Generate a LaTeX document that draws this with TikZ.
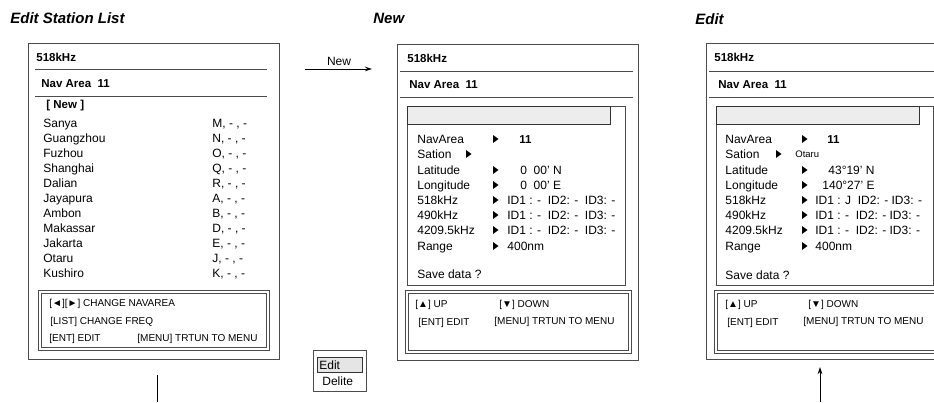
\documentclass[tikz,border=0pt]{standalone}
\usepackage{fontspec}
\setmainfont{Liberation Sans}
\usetikzlibrary{arrows.meta,positioning}

% small black pointer in front of a value
\newcommand{\ptr}[2]{\fill[black] (#1,#2-4) -- (#1+5.5,#2) -- (#1,#2+4) -- cycle;}

\begin{document}
\begin{tikzpicture}[
	x = 1pt, y = -1pt, % pixel grid, y runs downwards
	> = {Stealth[length=7pt, width=4.5pt]}, % arrow head style
	line width = 0.8pt,
	screen/.style={rectangle, draw=black!70, line width=0.9pt, anchor=north west, inner sep=0pt, outer sep=0pt},
	rule/.style={draw=black!70, line width=0.9pt},
	box/.style={draw=black!70, line width=0.8pt},
	bar/.style={draw=black!80, line width=0.8pt, fill=black!7},
	T/.style={anchor=west, inner sep=0pt, text height=8pt, text depth=0pt, font=\fontsize{12}{14}\selectfont},
	H/.style={T, font=\fontsize{11.5}{13}\selectfont\bfseries},
	S/.style={T, text height=7pt, font=\fontsize{9.5}{11}\selectfont},
	K/.style={anchor=west, inner sep=0pt, text height=7pt, text depth=0pt, font=\fontsize{10}{12}\selectfont},
	title/.style={anchor=west, inner sep=0pt, font=\fontsize{15}{17}\selectfont\bfseries\itshape},
	]
	\clip (0,0) rectangle (934,402);

	% Titles
	\node[title] (tList) at (10,18) {Edit Station List};
	\node[title] (tNew)  at (373,18) {New};
	\node[title] (tEdit) at (695,19) {Edit};

	% Edit station list screen
	\node[screen, minimum width=251, minimum height=316] (list) at (28,43) {};
	\draw[rule] (35,69) -- (267,69);
	\draw[rule] (35,96) -- (267,96);
	\node[H] (lFreq) at (36,57)  {518kHz};
	\node[H] (lArea) at (41,83)  {Nav Area~ 11};
	\node[H] (lNew)  at (46,104) {[ New ]};

	\node[T] (s1)  at (43,123) {Sanya};      \node[T] (c1)  at (212,123) {M, - , -};
	\node[T] (s2)  at (43,138) {Guangzhou};  \node[T] (c2)  at (212,138) {N, - , -};
	\node[T] (s3)  at (43,153) {Fuzhou};     \node[T] (c3)  at (212,153) {O, - , -};
	\node[T] (s4)  at (43,168) {Shanghai};   \node[T] (c4)  at (212,168) {Q, - , -};
	\node[T] (s5)  at (43,183) {Dalian};     \node[T] (c5)  at (212,183) {R, - , -};
	\node[T] (s6)  at (43,198) {Jayapura};   \node[T] (c6)  at (212,198) {A, - , -};
	\node[T] (s7)  at (43,213) {Ambon};      \node[T] (c7)  at (212,213) {B, - , -};
	\node[T] (s8)  at (43,228) {Makassar};   \node[T] (c8)  at (212,228) {D, - , -};
	\node[T] (s9)  at (43,243) {Jakarta};    \node[T] (c9)  at (212,243) {E, - , -};
	\node[T] (s10) at (43,258) {Otaru};      \node[T] (c10) at (212,258) {J, - , -};
	\node[T] (s11) at (43,273) {Kushiro};    \node[T] (c11) at (212,273) {K, - , -};

	\draw[box] (38,290) rectangle (269,350);
	\draw[box] (41,293) rectangle (266,347);
	\node[K] (lk1) at (49,303)  {[◄][►] CHANGE NAVAREA};
	\node[K] (lk2) at (50,321)  {[LIST] CHANGE FREQ};
	\node[K] (lk3) at (49,338)  {[ENT] EDIT};
	\node[K] (lk4) at (137,338) {[MENU] TRTUN TO MENU};

	% New station screen
	\node[screen, minimum width=241, minimum height=316] (newScr) at (397,44) {};
	\draw[rule] (400,71) -- (633,71);
	\draw[rule] (400,97) -- (633,97);
	\node[H] (nFreq) at (407,58) {518kHz};
	\node[H] (nArea) at (409,84) {Nav Area~ 11};
	\draw[box] (407,106) rectangle (625,285);
	\draw[bar] (407,106) rectangle (610,124);

	\node[T] (nr1) at (417,139) {NavArea};
	\node[T] (nr2) at (417,154) {Sation};
	\node[T] (nr3) at (417,170) {Latitude};
	\node[T] (nr4) at (417,185) {Longitude};
	\node[T] (nr5) at (417,200) {518kHz};
	\node[T] (nr6) at (417,215) {490kHz};
	\node[T] (nr7) at (417,230) {4209.5kHz};
	\node[T] (nr8) at (417,246) {Range};
	\node[T] (nr9) at (417,274) {Save data ?};
	\ptr{493}{139} \ptr{466}{154} \ptr{493}{170} \ptr{493}{185}
	\ptr{493}{200} \ptr{493}{215} \ptr{493}{230} \ptr{493}{246}
	\node[H] (nv1) at (519,139) {11};
	\node[T] (nv3) at (520,170) {0~ 00’ N};
	\node[T] (nv4) at (520,185) {0~ 00’ E};
	\node[T] (nv5) at (507,200) {ID1 : -~~ID2: -~~ID3: -};
	\node[T] (nv6) at (507,215) {ID1 : -~~ID2: -~~ID3: -};
	\node[T] (nv7) at (507,230) {ID1 : -~~ID2: -~~ID3: -};
	\node[T] (nv8) at (507,246) {400nm};

	\draw[box] (405,290) rectangle (631,353);
	\draw[box] (408,293) rectangle (628,350);
	\node[K] (nk1) at (415,304) {[▲] UP};
	\node[K] (nk2) at (499,304) {[▼] DOWN};
	\node[K] (nk3) at (418,322) {[ENT] EDIT};
	\node[K] (nk4) at (494,321) {[MENU] TRTUN TO MENU};

	% Edit / Delite choice
	\draw[box] (313,350) rectangle (366,391);
	\draw[bar, fill=black!10] (317,357) rectangle (362,372);
	\node[T] (mEdit) at (319,365) {Edit};
	\node[T] (mDel)  at (322,381) {Delite};

	% Edit station screen
	\begin{scope}[xshift=309pt]
	\node[screen, minimum width=241, minimum height=316] (editScr) at (397,43) {};
	\draw[rule] (400,71) -- (633,71);
	\draw[rule] (400,97) -- (633,97);
	\node[H] (eFreq) at (405,57) {518kHz};
	\node[H] (eArea) at (409,84) {Nav Area~ 11};
	\draw[box] (407,106) rectangle (624,285);
	\draw[bar] (407,106) rectangle (610,124);

	\node[T] (er1) at (416,139) {NavArea};
	\node[T] (er2) at (416,154) {Sation};
	\node[T] (er3) at (416,170) {Latitude};
	\node[T] (er4) at (416,185) {Longitude};
	\node[T] (er5) at (416,200) {518kHz};
	\node[T] (er6) at (416,215) {490kHz};
	\node[T] (er7) at (416,230) {4209.5kHz};
	\node[T] (er8) at (416,246) {Range};
	\node[T] (er9) at (416,275) {Save data ?};
	\ptr{493}{139} \ptr{467}{154} \ptr{493}{170} \ptr{493}{185}
	\ptr{493}{200} \ptr{493}{215} \ptr{493}{230} \ptr{493}{246}
	\node[H] (ev1) at (518,139) {11};
	\node[S] (ev2) at (486,154) {Otaru};
	\node[T] (ev3) at (519,170) {43°19’ N};
	\node[T] (ev4) at (513,185) {140°27’ E};
	\node[T] (ev5) at (506,200) {ID1 : J~~ID2: - ID3: -};
	\node[T] (ev6) at (506,215) {ID1 : -~~ID2: - ID3: -};
	\node[T] (ev7) at (506,230) {ID1 : -~~ID2: - ID3: -};
	\node[T] (ev8) at (506,246) {400nm};

	\draw[box] (405,290) rectangle (631,353);
	\draw[box] (408,293) rectangle (628,350);
	\node[K] (ek1) at (416,304) {[▲] UP};
	\node[K] (ek2) at (499,304) {[▼] DOWN};
	\node[K] (ek3) at (418,322) {[ENT] EDIT};
	\node[K] (ek4) at (494,321) {[MENU] TRTUN TO MENU};
	\end{scope}

	% Paths between the screens
	\coordinate (newFrom) at (305,69);
	\coordinate (newTo)   at (372,69);
	\node[T, anchor=center] (newLbl) at (339,61) {New};
	\draw[->] (newFrom) -- (newTo);

	\coordinate (listOut) at (157,375);
	\coordinate (listEnd) at (157,402);
	\draw (listOut) -- (listEnd);

	\coordinate (editIn)   at (820,367);
	\coordinate (editFrom) at (820,402);
	\draw[->] (editFrom) -- (editIn);

\end{tikzpicture}
\end{document}
